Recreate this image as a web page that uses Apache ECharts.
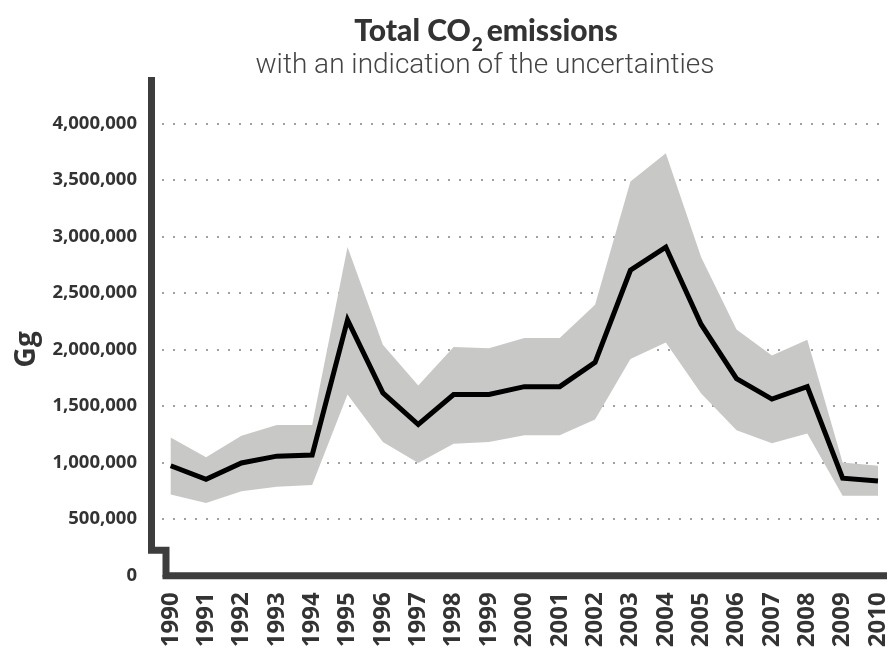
<!DOCTYPE html>
<html>
<head>
<meta charset="utf-8">
<script src="https://cdn.jsdelivr.net/npm/echarts@6/dist/echarts.min.js"></script>
<style>
html,body{margin:0;padding:0;background:#fff;}
#c{width:890px;height:651px;}
</style>
</head>
<body>
<div id="c"></div>
<script>
var years = ['1990','1991','1992','1993','1994','1995','1996','1997','1998','1999','2000','2001','2002','2003','2004','2005','2006','2007','2008','2009','2010'];
var central = [970000, 850000, 995000, 1055000, 1065000, 2260000, 1615000, 1335000, 1600000, 1600000, 1670000, 1670000, 1885000, 2700000, 2905000, 2220000, 1740000, 1560000, 1670000, 860000, 835000];
var upper = [1220000, 1045000, 1235000, 1330000, 1330000, 2905000, 2040000, 1680000, 2020000, 2010000, 2100000, 2100000, 2395000, 3485000, 3735000, 2815000, 2175000, 1945000, 2085000, 1000000, 970000];
var lower = [715000, 640000, 745000, 785000, 800000, 1600000, 1180000, 995000, 1165000, 1180000, 1240000, 1240000, 1380000, 1915000, 2060000, 1610000, 1285000, 1170000, 1255000, 705000, 705000];
var yTicks = {min: 0, max: 4000000, interval: 500000};

var bandWidth = upper.map(function (u, i) { return u - lower[i]; });

var chart = echarts.init(document.getElementById('c'), null, {renderer: 'canvas'});
var axisColor = '#3d3d3d';
var option = {
  animation: false,
  backgroundColor: '#ffffff',
  title: [{
    text: '{m|Total CO}{sub|2}{sp| }{m|emissions}',
    left: 481, top: 11, textAlign: 'center',
    textStyle: {
      fontFamily: 'Lato', fontWeight: 900, fontSize: 30, color: '#333333',
      rich: {
        m: { fontFamily: 'Lato', fontWeight: 900, fontSize: 30, color: '#333333', verticalAlign: 'top', lineHeight: 30 },
        sp: { fontFamily: 'Lato', fontSize: 12, color: '#333333', verticalAlign: 'top', lineHeight: 38 },
        sub: { fontFamily: 'Lato', fontWeight: 900, fontSize: 19, color: '#333333', verticalAlign: 'bottom', lineHeight: 19, padding: [0, 1, 0, 1] }
      }
    }
  }, {
    text: 'with an indication of the uncertainties',
    left: 480, top: 47, textAlign: 'center',
    textStyle: { fontFamily: 'Roboto', fontWeight: 300, fontSize: 28, color: '#444444' }
  }],
  grid: [
    {left: 170.7, right: 11.3, top: 123.3, bottom: 75.6, containLabel: false},
    {left: 162, right: 11, top: 123.3, bottom: 75.6, containLabel: false}
  ],
  xAxis: [{
    type: 'category', gridIndex: 0, data: years, boundaryGap: false,
    axisLine: {show: false}, axisTick: {show: false},
    axisLabel: { rotate: 90, margin: 17, color: '#333333', fontFamily: 'Open Sans', fontWeight: 'bold', fontSize: 24, interval: 0 }
  }, {
    type: 'value', gridIndex: 1, min: 0, max: 1, show: false
  }],
  yAxis: [{
    type: 'value', gridIndex: 0, min: yTicks.min, max: yTicks.max, interval: yTicks.interval,
    axisLine: {show: false}, axisTick: {show: false}, axisLabel: {show: false}, splitLine: {show: false}
  }, {
    type: 'value', gridIndex: 1, min: yTicks.min, max: yTicks.max, interval: yTicks.interval,
    name: 'Gg', nameLocation: 'middle', nameGap: 118, nameRotate: 90,
    nameTextStyle: { fontFamily: 'Open Sans', fontWeight: 'bold', fontSize: 28, color: '#333333' },
    axisLine: {show: false}, axisTick: {show: false},
    axisLabel: {
      margin: 25, color: '#333333', fontFamily: 'Open Sans', fontWeight: 'bold', fontSize: 18.5,
      formatter: function (v) { return v.toLocaleString('en-US'); }
    },
    splitLine: { show: true, lineStyle: { color: '#a0a0a0', width: 2, type: [2, 9], cap: 'butt' } }
  }],
  series: [{
    type: 'line', xAxisIndex: 0, yAxisIndex: 0, data: lower, stack: 'band',
    symbol: 'none', lineStyle: {opacity: 0}, silent: true, z: 2
  }, {
    type: 'line', xAxisIndex: 0, yAxisIndex: 0, data: bandWidth, stack: 'band',
    symbol: 'none', lineStyle: {opacity: 0}, areaStyle: {color: '#c8c8c6', opacity: 1}, silent: true, z: 2
  }, {
    type: 'line', xAxisIndex: 0, yAxisIndex: 0, data: central,
    symbol: 'none', lineStyle: {color: '#000000', width: 5, join: 'miter'}, z: 5
  }],
  graphic: [{
    type: 'polyline', z: 10,
    shape: { points: [[151.5, 77], [151.5, 550.3], [166, 550.3], [166, 575.7], [887, 575.7]] },
    style: { stroke: axisColor, lineWidth: 7, fill: null, lineJoin: 'miter' }
  }]
};
chart.setOption(option);
</script>
</body>
</html>
